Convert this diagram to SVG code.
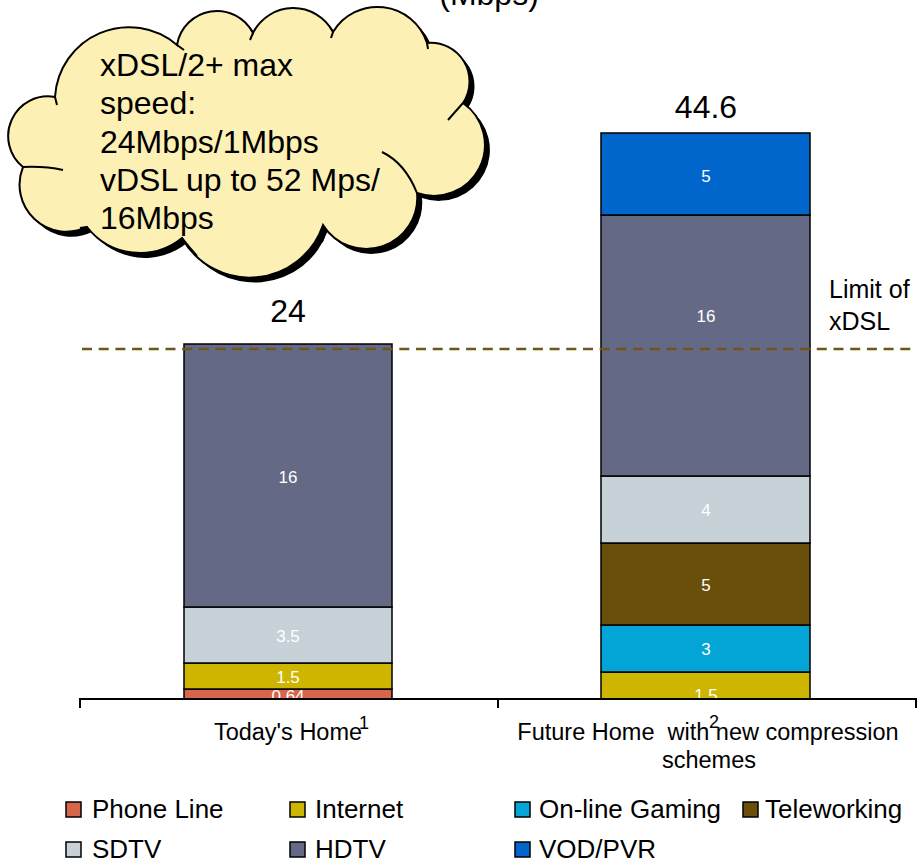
<svg xmlns="http://www.w3.org/2000/svg" width="917" height="862" viewBox="0 0 917 862">
<defs>
<style>
text{font-family:"Liberation Sans",Arial,sans-serif;fill:#000}
.seg{stroke:#000;stroke-width:1.5}
.val{fill:#fff;font-size:17px;text-anchor:middle}
.tot{font-size:32px;text-anchor:middle}
.cat{font-size:23.5px;text-anchor:middle}
.sup{font-size:18px;text-anchor:middle}
.leg{font-size:26px}
.sw{stroke:#000;stroke-width:1.5}
.cl{font-size:32px}
.curl{fill:none;stroke:#000;stroke-width:2}
.ph{fill:#D6654B}.in{fill:#CDB500}.ga{fill:#02A5D6}.te{fill:#6A4F0A}.sd{fill:#C7D1D8}.hd{fill:#646A86}.vo{fill:#0066CC}
</style>
<path id="cloudShape" d="M55,97 A74,74 0 0 1 177,45 A40.5,40.5 0 0 1 253,33 A45,45 0 0 1 333,32 A52,52 0 0 1 427,43 A38.7,38.7 0 0 1 463,103 A51,51 0 0 1 417,193 A51,51 0 0 1 323,225 A77.5,77.5 0 0 1 182,238 A67,67 0 0 1 87,227 A47,47 0 0 1 23,167 A39.7,39.7 0 0 1 55,97 Z"/>
</defs>
<rect width="917" height="862" fill="#fff"/>

<text id="title" x="489" y="5" class="tot">(Mbps)</text>

<g id="bar-today">
<rect class="seg ph" x="184" y="689" width="208" height="10"/>
<rect class="seg in" x="184" y="663" width="208" height="26"/>
<rect class="seg sd" x="184" y="607" width="208" height="56"/>
<rect class="seg hd" x="184" y="344" width="208" height="263"/>
<text class="val" x="288" y="483">16</text>
<text class="val" x="288" y="642">3.5</text>
<text class="val" x="288" y="683">1.5</text>
<text class="val" x="288" y="702">0.64</text>
<text class="tot" x="288" y="322">24</text>
</g>

<g id="bar-future">
<rect class="seg in" x="601" y="672" width="209" height="27"/>
<rect class="seg ga" x="601" y="625" width="209" height="47"/>
<rect class="seg te" x="601" y="543" width="209" height="82"/>
<rect class="seg sd" x="601" y="476" width="209" height="67"/>
<rect class="seg hd" x="601" y="215" width="209" height="261"/>
<rect class="seg vo" x="601" y="133" width="209" height="82"/>
<text class="val" x="706" y="182">5</text>
<text class="val" x="706" y="322">16</text>
<text class="val" x="706" y="516">4</text>
<text class="val" x="706" y="591">5</text>
<text class="val" x="706" y="655">3</text>
<text class="val" x="706" y="701">1.5</text>
<text class="tot" x="706" y="118">44.6</text>
</g>

<g id="axis" fill="none" stroke="#000" stroke-width="2">
<path d="M80,699 H916 M80,698 V708 M498,698 V708 M916,698 V708"/>
</g>

<g id="connectors">
<line x1="82" y1="349" x2="917" y2="349" stroke="#705518" stroke-width="2.6" stroke-dasharray="10 6.7"/>
</g>

<g id="limit-label">
<text x="829" y="298" font-size="25">Limit of</text>
<text x="829" y="330" font-size="25">xDSL</text>
</g>

<g id="cat-today">
<text class="cat" x="288" y="740">Today's Home</text>
<text class="sup" x="364" y="729">1</text>
</g>
<g id="cat-future">
<text class="cat" x="708" y="740" xml:space="preserve">Future Home  with new compression</text>
<text class="cat" x="709" y="768">schemes</text>
<text class="sup" x="714" y="728">2</text>
</g>

<g id="cloud">
<use href="#cloudShape" transform="translate(5,5)" fill="#000"/>
<use href="#cloudShape" fill="#FDF0B5" stroke="#000" stroke-width="2"/>
<path class="curl" d="M463,103 Q455,112 448,120 M417,193 Q405,163 382,152 M23,167 Q45,166 63,170 M323,225 Q325,235 322,242 M182,238 Q190,248 197,256 M55,97 L57,105 M177,45 L184,50 M253,33 L250,40 M333,32 L331,38 M427,43 L428,49 M87,227 L80,228"/>
<text class="cl" x="100" y="76">xDSL/2+ max</text>
<text class="cl" x="100" y="114">speed:</text>
<text class="cl" x="100" y="153">24Mbps/1Mbps</text>
<text class="cl" x="100" y="191">vDSL up to 52 Mps/</text>
<text class="cl" x="100" y="229">16Mbps</text>
</g>

<g id="legend-phone"><rect class="sw ph" x="66" y="802" width="15" height="15"/><text class="leg" x="92" y="818">Phone Line</text></g>
<g id="legend-internet"><rect class="sw in" x="290" y="802" width="15" height="15"/><text class="leg" x="315" y="818">Internet</text></g>
<g id="legend-gaming"><rect class="sw ga" x="515" y="802" width="15" height="15"/><text class="leg" x="539" y="818">On-line Gaming</text></g>
<g id="legend-tele"><rect class="sw te" x="743" y="802" width="15" height="15"/><text class="leg" x="765" y="818">Teleworking</text></g>
<g id="legend-sdtv"><rect class="sw sd" x="66" y="842" width="15" height="15"/><text class="leg" x="92" y="858">SDTV</text></g>
<g id="legend-hdtv"><rect class="sw hd" x="290" y="842" width="15" height="15"/><text class="leg" x="315" y="858">HDTV</text></g>
<g id="legend-vod"><rect class="sw vo" x="515" y="842" width="15" height="15"/><text class="leg" x="539" y="858">VOD/PVR</text></g>
</svg>
